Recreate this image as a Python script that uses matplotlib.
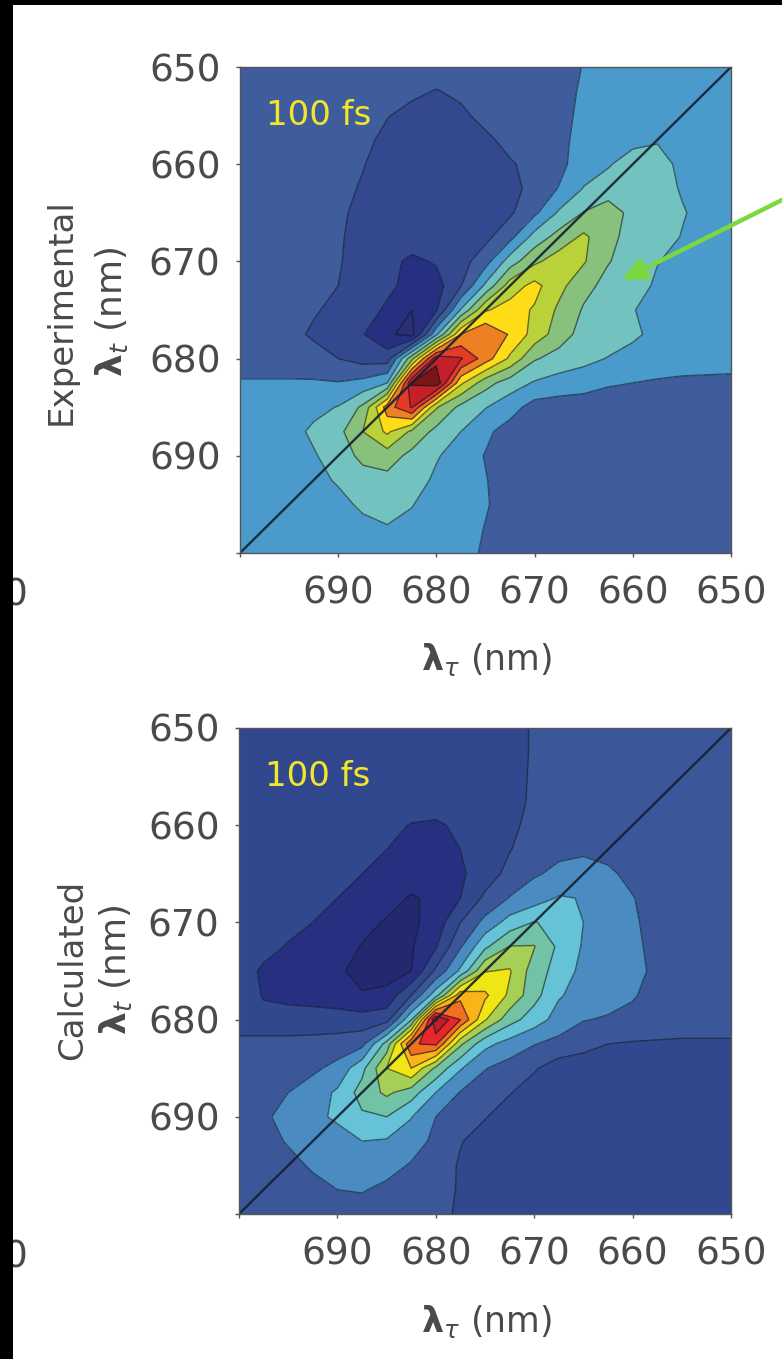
import numpy as np
import matplotlib
matplotlib.use("Agg")
import matplotlib.pyplot as plt
from matplotlib.patches import Rectangle

W, H = 782, 1359
plt.rcParams['font.family'] = ['DejaVu Sans']
plt.rcParams['mathtext.fontset'] = 'dejavusans'

# excitation (lambda_tau, columns, left to right) and detection (lambda_t, rows, top to bottom)
lambda_tau = [700, 697.5, 695, 692.5, 690, 687.5, 685, 682.5, 680, 677.5, 675,
              672.5, 670, 667.5, 665, 662.5, 660, 657.5, 655, 652.5, 650]
lambda_t = [650, 652.5, 655, 657.5, 660, 662.5, 665, 667.5, 670, 672.5, 675,
            677.5, 680, 682.5, 685, 687.5, 690, 692.5, 695, 697.5, 700]
tick_values = [650, 660, 670, 680, 690, 700]
tick_labels = ['650', '660', '670', '680', '690', '']

# signal, in contour-band units
experimental = [
 [-1,-1,-1,-1,-1,-1,-1,-1,-1,-1,-1,-1,-1,-1,-.45,0,0,0,0,0,0],
 [-1,-1,-1,-1,-1,-1,-1,-1.3,-1.55,-1.3,-1,-1,-1,-1,-.3,0,0,0,0,0,0],
 [-1,-1,-1,-1,-1,-1.1,-1.45,-1.8,-1.9,-1.7,-1.2,-1,-1,-.9,-.2,0,0,0,0,0,0],
 [-1,-1,-1,-1,-1,-1.2,-1.8,-2,-2,-2,-1.7,-1.2,-1,-.8,-.1,.1,.2,.4,0,0,0],
 [-1,-1,-1,-1,-1.1,-1.45,-1.9,-2,-2,-2,-2,-1.6,-1.2,-.75,0,.4,1,1,.2,0,0],
 [-1,-1,-1,-1,-1.2,-1.6,-2,-2,-2,-2,-2,-1.9,-1.1,-.45,.55,1,1,1,.4,0,0],
 [-1,-1,-1,-1.05,-1.3,-1.8,-2,-2,-2,-2,-2,-1.65,-.7,.65,1.55,2,1.2,1,.6,.1,0],
 [-1,-1,-1,-1.05,-1.4,-1.8,-2,-2,-2.1,-2,-1.75,-.8,.9,1.9,2.7,1.8,1.1,1,.45,0,0],
 [-1,-1,-1,-1.05,-1.4,-2,-2.2,-2.7,-2.4,-1.9,-.9,1,2.3,3,2.6,1.55,1.1,.55,.1,0,0],
 [-1,-1,-1,-1.05,-1.5,-1.9,-2.3,-2.8,-2.9,-1.55,.7,3,3.8,2.8,1.8,1.2,1.05,.3,0,0,0],
 [-1,-1,-1,-1.4,-1.75,-2.1,-2.65,-3.5,-2.6,.6,3.4,3.9,3.4,2.3,1.4,1.1,.55,.1,0,0,0],
 [-1,-1,-1.2,-1.65,-2,-2.45,-3.3,-3.9,.3,4.5,5.4,4.4,3.1,2,1.1,1,.7,.2,0,0,0],
 [-1,-1,-1,-1.1,-1.5,-1.9,-2,2.2,7.2,6.6,5,3.3,1.6,1.1,.8,.45,.1,0,0,0,0],
 [-.4,-.4,-.4,-.4,-.45,-.2,.5,7.6,8.2,3.7,1.9,1,.4,.1,-.1,-.4,-.5,-.6,-.7,-.75,-.8],
 [0,0,.05,.2,.55,1.7,5,6.6,2.6,1.2,.55,-.1,-.9,-1,-1,-1,-1,-1,-1,-1,-1],
 [0,0,.1,.7,1.2,2.5,3.7,2.3,1.2,.5,-.3,-.9,-1,-1,-1,-1,-1,-1,-1,-1,-1],
 [0,0,.1,.4,1,1.75,2,1.2,.6,0,-.55,-1,-1,-1,-1,-1,-1,-1,-1,-1,-1],
 [0,0,0,.1,.65,1.1,1.2,1,.3,0,-.45,-1,-1,-1,-1,-1,-1,-1,-1,-1,-1],
 [0,0,0,0,.1,.75,1,.55,0,0,-.4,-1,-1,-1,-1,-1,-1,-1,-1,-1,-1],
 [0,0,0,0,0,.1,.4,.2,0,0,-.55,-1,-1,-1,-1,-1,-1,-1,-1,-1,-1],
 [0,0,0,0,0,0,0,0,0,0,-.7,-1,-1,-1,-1,-1,-1,-1,-1,-1,-1],
]
calculated = [
 [-2,-2,-2,-2,-2,-2,-2,-2,-2,-2,-2,-2,-1.35,-1,-1,-1,-1,-1,-1,-1,-1],
 [-2,-2,-2,-2,-2,-2,-2,-2,-2,-2,-2,-2,-1.35,-1,-1,-1,-1,-1,-1,-1,-1],
 [-2,-2,-2,-2,-2,-2,-2,-2,-2,-2,-2,-2,-1.3,-1,-1,-1,-1,-1,-1,-1,-1],
 [-2,-2,-2,-2,-2,-2,-2,-2,-2,-2,-2,-2,-1.25,-1,-1,-1,-1,-1,-1,-1,-1],
 [-2,-2,-2,-2,-2,-2.05,-2.2,-2.55,-2.65,-2.3,-2.05,-1.8,-1.1,-1,-1,-1,-1,-1,-1,-1,-1],
 [-2,-2,-2,-2,-2.05,-2.2,-2.5,-2.8,-2.9,-2.5,-2.2,-1.55,-1,-.7,-.7,-.85,-1,-1,-1,-1,-1],
 [-2,-2,-2,-2.05,-2.2,-2.5,-2.8,-3,-3.1,-2.65,-2,-1.2,-.6,-.3,0,-.3,-.8,-1,-1,-1,-1],
 [-2,-2,-2.05,-2.2,-2.5,-2.75,-3.1,-3.6,-3.3,-2.5,-1.3,-.45,0,.6,.45,0,-.45,-1,-1,-1,-1],
 [-2,-2.05,-2.1,-2.5,-2.8,-3.2,-3.6,-3.7,-3.1,-1.5,-.2,.9,1.55,1.2,.5,.1,-.3,-1,-1,-1,-1],
 [-2,-2.1,-2.6,-2.8,-3.1,-3.55,-3.8,-3.6,-2.6,-.6,1.3,2.55,2.55,1.3,.4,0,-.2,-.9,-1,-1,-1],
 [-1.9,-2.7,-2.85,-3,-3.3,-3.9,-3.95,-3.5,-1.3,.7,3.45,3.6,2,1.1,.2,-.1,-.1,-.8,-1,-1,-1],
 [-1.7,-2.6,-2.75,-2.85,-3,-3.4,-3.2,-1.5,1.1,5.2,4.7,3.3,1.85,.6,.1,-.1,-.4,-.9,-1,-1,-1],
 [-2.1,-2.1,-2.1,-2.1,-2.1,-2.1,-1.9,1.4,8.6,6.5,3.6,1.9,1,.1,-.45,-.6,-.8,-1,-1,-1,-1],
 [-1.2,-1.2,-1.2,-1.15,-1.05,-.8,1.9,6.4,6.7,2.7,.8,.1,-.45,-.8,-1.2,-1.5,-1.58,-1.6,-1.65,-1.65,-1.65],
 [-1,-1,-1,-.7,-.2,1.2,3.5,4.5,2.3,.6,-.45,-.9,-1.4,-2,-2,-2,-2,-2,-2,-2,-2],
 [-1,-1,-.5,0,.65,1.9,2.7,2,.5,-.55,-1,-1.45,-1.9,-2,-2,-2,-2,-2,-2,-2,-2],
 [-1,-.65,-.2,.2,.7,1.35,1.5,.55,-.5,-1,-1.45,-1.9,-2,-2,-2,-2,-2,-2,-2,-2,-2],
 [-1,-.9,-.4,-.15,0,.5,.4,0,-.75,-1.45,-1.85,-2,-2,-2,-2,-2,-2,-2,-2,-2,-2],
 [-1,-1,-.85,-.35,-.1,0,-.1,-.6,-1,-1.6,-2,-2,-2,-2,-2,-2,-2,-2,-2,-2,-2],
 [-1,-1,-1,-.85,-.5,-.42,-.75,-1,-1.1,-1.6,-2,-2,-2,-2,-2,-2,-2,-2,-2,-2,-2],
 [-1,-1,-1,-1,-1,-1,-1,-1,-1.2,-1.65,-2,-2,-2,-2,-2,-2,-2,-2,-2,-2,-2],
]

band_edges_exp = [-9, -3.5, -2.5, -1.5, -.5, .5, 1.5, 2.5, 3.5, 4.5, 5.5, 6.5, 7.5, 12]
band_colors_exp = ['#2a3078', '#262f80', '#33488f', '#3f5d9c', '#4a9acb', '#72c2c0', '#87c17c',
                   '#b9d23a', '#ffdc18', '#ee8024', '#e33b26', '#c4202a', '#7a1618']
band_edges_calc = [-9, -3.5, -2.5, -1.5, -.5, .5, 1.5, 2.5, 3.5, 4.5, 5.5, 6.5, 7.5, 8.5, 12]
band_colors_calc = ['#24286e', '#262f80', '#32488e', '#3c5799', '#4a8cc2', '#66c2d6', '#72c2a6',
                    '#a6cf55', '#f0e614', '#fbb417', '#f0701e', '#e8272a', '#c01d24', '#8a1518']

TXT = '#4a4a4a'
TICK_FS = 27


def px_axes(x0, y0, x1, y1):
    return fig.add_axes([x0 / W, 1 - y1 / H, (x1 - x0) / W, (y1 - y0) / H])


def panel(box, data, edges, colors, ylabel_text, ylab_x, ylab_cy):
    ax = px_axes(*box)
    z = np.array(data, dtype=float)
    ax.contourf(lambda_tau, lambda_t, z, levels=edges, colors=colors)
    ax.contour(lambda_tau, lambda_t, z, levels=edges[1:-1], colors='#101828',
               linewidths=1.0, alpha=0.6, negative_linestyles='solid')
    ax.plot([700, 650], [700, 650], color='#14202e', lw=1.7, alpha=0.9)
    ax.set_xlim(700, 650)
    ax.set_ylim(700, 650)
    ax.set_xticks(tick_values)
    ax.set_xticklabels(tick_labels)
    ax.set_yticks(tick_values)
    ax.set_yticklabels(tick_labels)
    ax.tick_params(length=3, width=1, color='#555555', labelcolor=TXT, labelsize=TICK_FS)
    ax.tick_params(axis='y', pad=11)
    ax.tick_params(axis='x', pad=13)
    for s in ax.spines.values():
        s.set_color('#555555')
        s.set_linewidth(1)
    ax.text(0.052, 0.9, '100 fs', transform=ax.transAxes, color='#f2e62a', fontsize=24.5,
            ha='left', va='center')
    fig.text(487 / W, 1 - (box[3] + 107) / H, r'$\mathbf{\lambda}_{\tau}$ (nm)', color=TXT, fontsize=25,
             ha='center', va='center')
    fig.text(ylab_x[0] / W, 1 - ylab_cy / H, ylabel_text, color=TXT, fontsize=24.5, rotation=90,
             ha='center', va='center')
    fig.text(ylab_x[1] / W, 1 - ylab_cy / H, r'$\mathbf{\lambda}_{t}$ (nm)', color=TXT, fontsize=26, rotation=90,
             ha='center', va='center')
    # clipped tick label of a neighbouring panel at the left edge
    fig.text(3 / W, 1 - (box[3] + 43) / H, '0', color=TXT, fontsize=TICK_FS, ha='left', va='center')
    return ax


fig = plt.figure(figsize=(W / 100, H / 100), dpi=100, facecolor='white')

ax1 = panel((240, 67, 731, 553), experimental, band_edges_exp, band_colors_exp,
            'Experimental', (61, 112), 312)
ax2 = panel((239, 728, 731, 1214), calculated, band_edges_calc, band_colors_calc,
            'Calculated', (73, 116), 970)

ax1.annotate('', xy=(622 / W, 1 - 280 / H), xycoords='figure fraction',
             xytext=(790 / W, 1 - 196 / H), textcoords='figure fraction',
             arrowprops=dict(arrowstyle='-|>,head_length=1.4,head_width=0.65', color='#7bd93f', lw=3.2,
                             shrinkA=0, shrinkB=0), annotation_clip=False)

# black frame of the screenshot
fig.add_artist(Rectangle((0, 0), 13 / W, 1, transform=fig.transFigure, facecolor='black', edgecolor='none', zorder=20))
fig.add_artist(Rectangle((0, 1 - 5 / H), 1, 5 / H, transform=fig.transFigure, facecolor='black', edgecolor='none', zorder=20))

fig.savefig('out.png', dpi=100, facecolor='white')
